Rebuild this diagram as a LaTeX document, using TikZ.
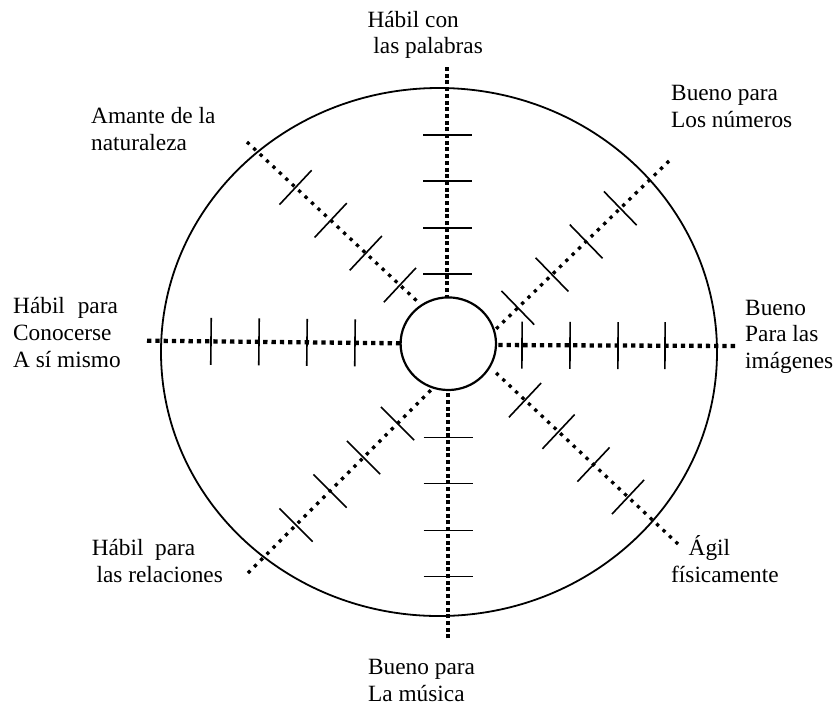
\documentclass[tikz,border=0pt]{standalone}
\usepackage{fontspec}
\setmainfont{Liberation Serif}
\usetikzlibrary{calc,shapes.geometric}
\begin{document}
\begin{tikzpicture}[x=1pt,y=-1pt,
  lbl/.style={inner sep=0pt, font=\fontsize{23.3}{27}\selectfont},
  rimstyle/.style={draw, ellipse, line width=1.8pt, minimum width=556pt, minimum height=528pt, inner sep=0pt},
  hubstyle/.style={draw, ellipse, line width=2.2pt, minimum width=95.4pt, minimum height=92.6pt, inner sep=0pt},
  axisv/.style={line width=4.3pt, dash pattern=on 4pt off 2.7pt},
  axish/.style={line width=4.3pt, dash pattern=on 4.3pt off 4pt},
  diag/.style={line width=3.3pt, dash pattern=on 3.3pt off 5.5pt},
  tickmark/.style={line width=1.6pt}]
\useasboundingbox (0,0) rectangle (837,705);
\fill[white] (0,0) rectangle (837,705);

\node[rimstyle] (rim) at (439,352) {};
\node[hubstyle] (hub) at (448.3,343.7) {};

\coordinate (nO) at (447,67);      \coordinate (nI) at (447,297.5);
\coordinate (sO) at (448,638.3);   \coordinate (sI) at (448,390);
\coordinate (wO) at (147,340.7);   \coordinate (wI) at (400.5,343.3);
\coordinate (eO) at (735,346);     \coordinate (eI) at (496,345);
\coordinate (nwO) at (247,142);    \coordinate (nwI) at (418,302);
\coordinate (neO) at (669,161);    \coordinate (neI) at (495,330);
\coordinate (swO) at (248,573);    \coordinate (swI) at (433,388);
\coordinate (seO) at (678,544);    \coordinate (seI) at (493,370);

\draw[axisv] (nO) -- (nI);
\draw[axisv] (sO) -- (sI);
\draw[axish] (wO) -- (wI);
\draw[axish] (eO) -- (eI);
\draw[diag] (nwO) -- (nwI);
\draw[diag] (neO) -- (neI);
\draw[diag] (swO) -- (swI);
\draw[diag] (seO) -- (seI);

\foreach \d in {68pt,114pt,161pt,207pt}
  \draw[tickmark] ($(nO)!\d!(nI)!24.5pt!90:(nI)$) -- ($(nO)!\d!(nI)!24.5pt!-90:(nI)$);
\foreach \d in {62pt,108pt,155pt,201pt}
  \draw[tickmark] ($(sO)!\d!(sI)!24.5pt!90:(sI)$) -- ($(sO)!\d!(sI)!24.5pt!-90:(sI)$);
\foreach \d in {64pt,112pt,160pt,208pt}
  \draw[tickmark] ($(wO)!\d!(wI)!23.5pt!90:(wI)$) -- ($(wO)!\d!(wI)!23.5pt!-90:(wI)$);
\foreach \d in {70pt,117pt,165pt,213pt}
  \draw[tickmark] ($(eO)!\d!(eI)!23.5pt!90:(eI)$) -- ($(eO)!\d!(eI)!23.5pt!-90:(eI)$);
\foreach \d in {66.5pt,114.6pt,162.7pt,209.4pt}
  \draw[tickmark] ($(nwO)!\d!(nwI)!23.5pt!90:(nwI)$) -- ($(nwO)!\d!(nwI)!23.5pt!-90:(nwI)$);
\foreach \d in {67.9pt,115.5pt,163.1pt,210.7pt}
  \draw[tickmark] ($(neO)!\d!(neI)!23.5pt!90:(neI)$) -- ($(neO)!\d!(neI)!23.5pt!-90:(neI)$);
\foreach \d in {67.9pt,116pt,163.3pt,211.4pt}
  \draw[tickmark] ($(swO)!\d!(swI)!23.5pt!90:(swI)$) -- ($(swO)!\d!(swI)!23.5pt!-90:(swI)$);
\foreach \d in {68.6pt,116pt,164pt,210pt}
  \draw[tickmark] ($(seO)!\d!(seI)!23.5pt!90:(seI)$) -- ($(seO)!\d!(seI)!23.5pt!-90:(seI)$);

\node[lbl, anchor=base east] (tn1) at (459,27) {Hábil con};
\node[lbl, anchor=base east] (tn2) at (483,53) {las palabras};

\node[lbl, anchor=base west] (tnw1) at (91,123) {Amante de la};
\node[lbl, anchor=base west] (tnw2) at (91,150) {naturaleza};

\node[lbl, anchor=base west] (tne1) at (671,100.5) {Bueno para};
\node[lbl, anchor=base west] (tne2) at (671,127) {Los números};

\node[lbl, anchor=base west] (tw1) at (13,313) {Hábil\hspace{0.55em}para};
\node[lbl, anchor=base west] (tw2) at (13,340) {Conocerse};
\node[lbl, anchor=base west] (tw3) at (13,367) {A sí mismo};

\node[lbl, anchor=base west] (te1) at (745,315) {Bueno};
\node[lbl, anchor=base west] (te2) at (745,341.7) {Para las};
\node[lbl, anchor=base west] (te3) at (745,368.3) {imágenes};

\node[lbl, anchor=base east] (tsw1) at (195.5,555) {Hábil\hspace{0.5em}para};
\node[lbl, anchor=base east] (tsw2) at (223,582.7) {las relaciones};

\node[lbl, anchor=base west] (tse1) at (688.5,555) {Ágil};
\node[lbl, anchor=base west] (tse2) at (671,582.7) {físicamente};

\node[lbl, anchor=base west] (ts1) at (368,674.5) {Bueno para};
\node[lbl, anchor=base west] (ts2) at (368,701) {La música};
\end{tikzpicture}
\end{document}
